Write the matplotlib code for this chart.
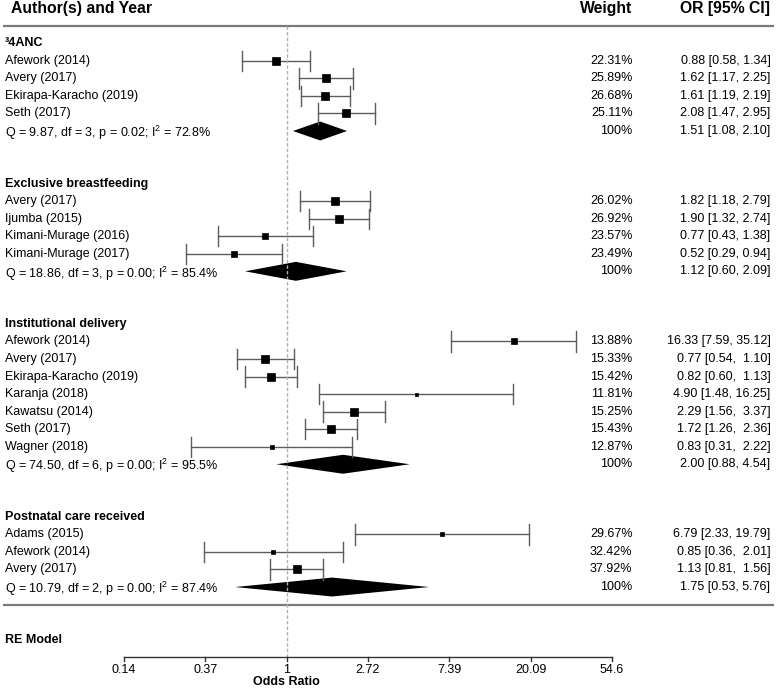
import numpy as np
import matplotlib
matplotlib.use("Agg")
import matplotlib.pyplot as plt

plt.rcParams['font.family'] = ['Liberation Sans', 'DejaVu Sans']
plt.rcParams['mathtext.fontset'] = 'custom'
plt.rcParams['mathtext.rm'] = 'Liberation Sans'
plt.rcParams['mathtext.it'] = 'Liberation Sans:italic'
plt.rcParams['mathtext.bf'] = 'Liberation Sans:bold'

# ---- data ----
group_names = ["³4ANC", "Exclusive breastfeeding", "Institutional delivery", "Postnatal care received"]

anc_studies = ["Afework (2014)", "Avery (2017)", "Ekirapa-Karacho (2019)", "Seth (2017)"]
anc_or = [0.88, 1.62, 1.61, 2.08]
anc_lo = [0.58, 1.17, 1.19, 1.47]
anc_hi = [1.34, 2.25, 2.19, 2.95]
anc_wt = [22.31, 25.89, 26.68, 25.11]
anc_sum = [1.51, 1.08, 2.10]
anc_het = [9.87, 3, 0.02, 72.8]

ebf_studies = ["Avery (2017)", "Ijumba (2015)", "Kimani-Murage (2016)", "Kimani-Murage (2017)"]
ebf_or = [1.82, 1.90, 0.77, 0.52]
ebf_lo = [1.18, 1.32, 0.43, 0.29]
ebf_hi = [2.79, 2.74, 1.38, 0.94]
ebf_wt = [26.02, 26.92, 23.57, 23.49]
ebf_sum = [1.12, 0.60, 2.09]
ebf_het = [18.86, 3, 0.00, 85.4]

inst_studies = ["Afework (2014)", "Avery (2017)", "Ekirapa-Karacho (2019)", "Karanja (2018)",
                "Kawatsu (2014)", "Seth (2017)", "Wagner (2018)"]
inst_or = [16.33, 0.77, 0.82, 4.90, 2.29, 1.72, 0.83]
inst_lo = [7.59, 0.54, 0.60, 1.48, 1.56, 1.26, 0.31]
inst_hi = [35.12, 1.10, 1.13, 16.25, 3.37, 2.36, 2.22]
inst_wt = [13.88, 15.33, 15.42, 11.81, 15.25, 15.43, 12.87]
inst_sum = [2.00, 0.88, 4.54]
inst_het = [74.50, 6, 0.00, 95.5]

pnc_studies = ["Adams (2015)", "Afework (2014)", "Avery (2017)"]
pnc_or = [6.79, 0.85, 1.13]
pnc_lo = [2.33, 0.36, 0.81]
pnc_hi = [19.79, 2.01, 1.56]
pnc_wt = [29.67, 32.42, 37.92]
pnc_sum = [1.75, 0.53, 5.76]
pnc_het = [10.79, 2, 0.00, 87.4]

tick_exp = [-2, -1, 0, 1, 2, 3, 4]
tick_labels = ["0.14", "0.37", "1", "2.72", "7.39", "20.09", "54.6"]

groups = [
    (anc_studies, anc_or, anc_lo, anc_hi, anc_wt, anc_sum, anc_het),
    (ebf_studies, ebf_or, ebf_lo, ebf_hi, ebf_wt, ebf_sum, ebf_het),
    (inst_studies, inst_or, inst_lo, inst_hi, inst_wt, inst_sum, inst_het),
    (pnc_studies, pnc_or, pnc_lo, pnc_hi, pnc_wt, pnc_sum, pnc_het),
]

# ---- layout (pixels of a 777x689 canvas) ----
W, H = 777, 689
X1 = 286.7        # pixel of OR = 1
PX_LN = 81.3      # pixels per unit of ln(OR)
Y0 = 43.3         # pixel of row 0
ROW = 17.54       # pixels per row

fig = plt.figure(figsize=(W / 100, H / 100), dpi=100)
ax = fig.add_axes([0, 0, 1, 1])
ax.set_xscale('log')
ax.set_xlim(np.exp(-X1 / PX_LN), np.exp((W - X1) / PX_LN))
ax.set_ylim((H - Y0) / ROW, -Y0 / ROW)
ax.axis('off')
tr = ax.get_yaxis_transform()   # x in axes fraction, y in rows

def fx(px):
    return px / W

FS = 9
X_LEFT = fx(5)
X_WT = fx(632.5)
X_CI = fx(770.5)
CI_COL = '#5c5c5c'

# point size from random-effects style weights 1/(v + tau2), over all studies
TAU2 = 0.3
def re_weight(lo, hi):
    se = (np.log(hi) - np.log(lo)) / 3.92
    return 1.0 / (se ** 2 + TAU2)

all_w = np.concatenate([re_weight(np.array(g[2]), np.array(g[3])) for g in groups])
wmin, wmax = all_w.min(), all_w.max()

# header
ax.text(fx(11), -2, "Author(s) and Year", transform=tr, ha='left', va='center',
        fontsize=11.3, fontweight='bold')
ax.text(X_WT, -2, "Weight", transform=tr, ha='right', va='center', fontsize=11.3, fontweight='bold')
ax.text(X_CI, -2, "OR [95% CI]", transform=tr, ha='right', va='center', fontsize=11.3, fontweight='bold')
ax.plot([fx(3), fx(774)], [-1, -1], transform=tr, color='#7a7a7a', lw=1.6, solid_capstyle='butt')

row = 0
for name, (studies, ors, los, his, wts, summ, het) in zip(group_names, groups):
    ax.text(X_LEFT, row, name, transform=tr, ha='left', va='center', fontsize=FS, fontweight='bold')
    up_w = max(len(f"{h:.2f}") for h in his)
    for k in range(len(studies)):
        y = row + 1 + k
        ax.text(X_LEFT, y, studies[k], transform=tr, ha='left', va='center', fontsize=FS)
        ax.plot([los[k], his[k]], [y, y], color=CI_COL, lw=1.0)
        for e in (los[k], his[k]):
            ax.plot([e, e], [y - 0.58, y + 0.58], color=CI_COL, lw=1.0)
        w = re_weight(los[k], his[k])
        size_px = 3.0 + (w - wmin) / (wmax - wmin) * (8.2 - 3.0)
        ax.plot(ors[k], y, marker='s', color='black', markersize=size_px * 0.72,
                mew=0.5, mec='black')
        ax.text(X_WT, y, f"{wts[k]:.2f}%", transform=tr, ha='right', va='center', fontsize=FS)
        ci = f"{ors[k]:.2f} [{los[k]:.2f}, {his[k]:>{up_w}.2f}]"
        ax.text(X_CI, y, ci, transform=tr, ha='right', va='center', fontsize=FS)
    y = row + len(studies) + 1
    est, lo, hi = summ
    ax.fill([lo, est, hi, est], [y, y - 0.54, y, y + 0.54], color='black', lw=0)
    q, df, pv, i2 = het
    ax.text(X_LEFT, y + 0.12, f"Q = {q:.2f}, df = {df}, p = {pv:.2f}; I$^{{2}}$ = {i2:.1f}%",
            transform=tr, ha='left', va='center', fontsize=FS)
    ax.text(X_WT, y, "100%", transform=tr, ha='right', va='center', fontsize=FS)
    ax.text(X_CI, y, f"{est:.2f} [{lo:.2f}, {hi:.2f}]", transform=tr, ha='right', va='center', fontsize=FS)
    row = y + 3

line_row = row - 2
ax.plot([fx(3), fx(774)], [line_row, line_row], transform=tr, color='#7a7a7a', lw=1.6,
        solid_capstyle='butt')
ax.text(X_LEFT, line_row + 2, "RE Model", transform=tr, ha='left', va='center',
        fontsize=FS, fontweight='bold')

# reference line at OR = 1
axis_row = line_row + 3
ax.plot([1, 1], [-1, axis_row], color='#b0b0b0', lw=1.0, dashes=(2.5, 1.5))

# x axis
tv = np.exp(tick_exp)
ax.plot([tv[0], tv[-1]], [axis_row, axis_row], color='#333333', lw=1.0)
for t, lab in zip(tv, tick_labels):
    ax.plot([t, t], [axis_row, axis_row + 0.22], color='#333333', lw=1.0)
    ax.text(t, axis_row + 0.75, lab, ha='center', va='center', fontsize=FS)
ax.text(1, axis_row + 1.42, "Odds Ratio", ha='center', va='center', fontsize=FS, fontweight='bold')

fig.savefig("out.png", dpi=100)
